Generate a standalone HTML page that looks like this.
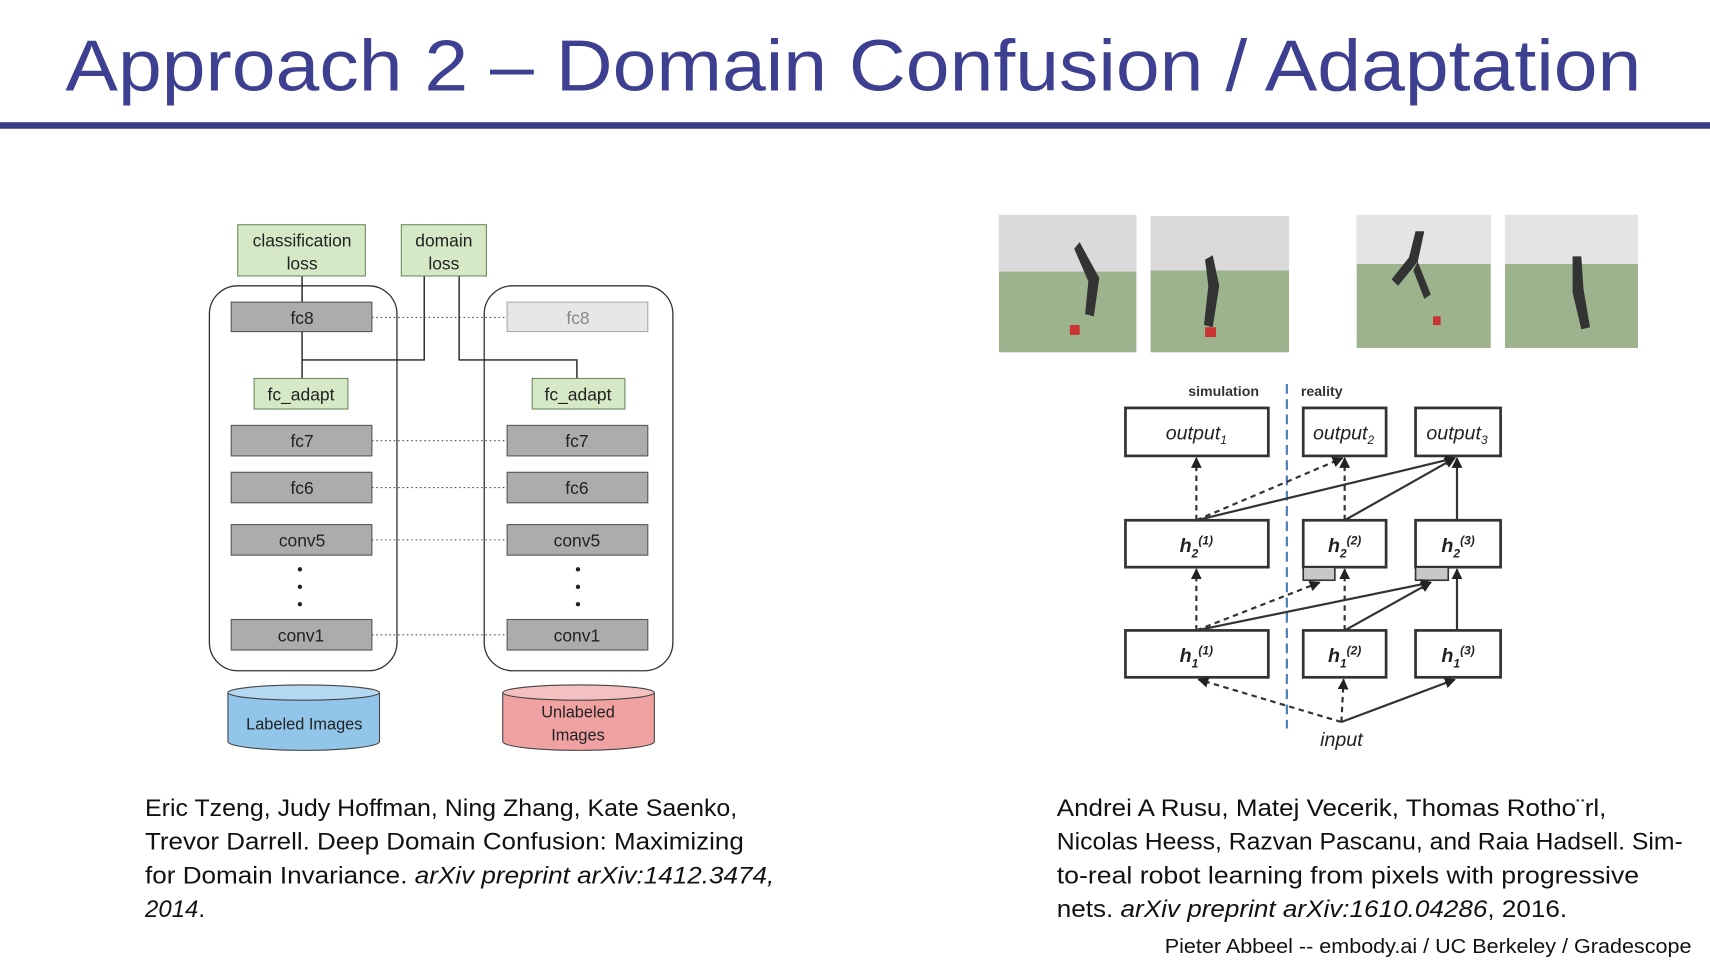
<!DOCTYPE html>
<html><head><meta charset="utf-8"><style>
html,body{margin:0;padding:0;background:#fff;}
svg{display:block;}
text{font-family:"Liberation Sans",sans-serif;}
</style></head><body>
<svg width="1710" height="962" viewBox="0 0 1568 882" xmlns="http://www.w3.org/2000/svg">
<defs>
<marker id="ah" viewBox="0 0 10 10" refX="9" refY="5" markerWidth="5" markerHeight="5" orient="auto"><path d="M0,0L10,5L0,10z" fill="#222"/></marker>
</defs>
<rect width="1568" height="882" fill="#fff"/>
<text x="60" y="83" font-size="66" fill="#3d3f91" textLength="1445" lengthAdjust="spacingAndGlyphs">Approach 2 – Domain Confusion / Adaptation</text>
<rect x="0" y="112" width="1568" height="6" fill="#3b3c86"/>

<!-- left diagram -->
<g font-size="16" text-anchor="middle" fill="#222">
<rect x="192" y="262" width="172" height="353" rx="26" fill="none" stroke="#333" stroke-width="1.2"/>
<rect x="444" y="262" width="173" height="353" rx="26" fill="none" stroke="#333" stroke-width="1.2"/>
<g stroke="#222" stroke-width="1.3" fill="none">
<path d="M277 253V277M277 304V347M277 330H389V253M421 253V330H529V347"/>
</g>
<rect x="218" y="206" width="117" height="47" fill="#d6e9c6" stroke="#6b8c5a"/>
<text x="277" y="226">classification</text><text x="277" y="247">loss</text>
<rect x="368" y="206" width="78" height="47" fill="#d6e9c6" stroke="#6b8c5a"/>
<text x="407" y="226">domain</text><text x="407" y="247">loss</text>
<g stroke="#555" stroke-width="1" stroke-dasharray="1.5,2.5">
<path d="M341 291H465M341 404H465M341 447H465M341 495H465M341 582H465"/>
</g>
<g fill="#acacac" stroke="#555">
<rect x="212" y="277" width="129" height="27"/>
<rect x="212" y="390" width="129" height="28"/><rect x="465" y="390" width="129" height="28"/>
<rect x="212" y="433" width="129" height="28"/><rect x="465" y="433" width="129" height="28"/>
<rect x="212" y="481" width="129" height="28"/><rect x="465" y="481" width="129" height="28"/>
<rect x="212" y="568" width="129" height="28"/><rect x="465" y="568" width="129" height="28"/>
</g>
<rect x="465" y="277" width="129" height="27" fill="#e6e6e6" stroke="#aaa"/>
<text x="277" y="297">fc8</text><text x="530" y="297" fill="#888">fc8</text>
<rect x="233" y="347" width="86" height="28" fill="#d6e9c6" stroke="#6b8c5a"/>
<rect x="488" y="347" width="85" height="28" fill="#d6e9c6" stroke="#6b8c5a"/>
<text x="276" y="367">fc_adapt</text><text x="530" y="367">fc_adapt</text>
<text x="277" y="410">fc7</text><text x="529" y="410">fc7</text>
<text x="277" y="453">fc6</text><text x="529" y="453">fc6</text>
<text x="277" y="501">conv5</text><text x="529" y="501">conv5</text>
<text x="276" y="588">conv1</text><text x="529" y="588">conv1</text>
<g fill="#222"><circle cx="275" cy="522" r="2"/><circle cx="275" cy="538" r="2"/><circle cx="275" cy="554" r="2"/>
<circle cx="530" cy="522" r="2"/><circle cx="530" cy="538" r="2"/><circle cx="530" cy="554" r="2"/></g>
<path d="M209 635V680A69.5 8 0 0 0 348 680V635" fill="#92c5ea" stroke="#444"/>
<ellipse cx="278.5" cy="635" rx="69.5" ry="7" fill="#b5d8f2" stroke="#444"/>
<text x="279" y="669" font-size="15">Labeled Images</text>
<path d="M461 635V680A69.5 8 0 0 0 600 680V635" fill="#f0a2a2" stroke="#444"/>
<ellipse cx="530.5" cy="635" rx="69.5" ry="7" fill="#f5c0c0" stroke="#444"/>
<text x="530" y="658" font-size="15">Unlabeled</text><text x="530" y="679" font-size="15">Images</text>
</g>

<!-- robot images -->
<g>
<rect x="916" y="197" width="126" height="126" fill="#9db38e"/><rect x="916" y="197" width="126" height="52" fill="#dadada"/>
<path d="M985 228L990 222L1008 255L1003 290L995 288L998 258z" fill="#333"/><rect x="981" y="298" width="9" height="9" fill="#c33"/>
<rect x="1055" y="198" width="127" height="125" fill="#9db38e"/><rect x="1055" y="198" width="127" height="50" fill="#dadada"/>
<path d="M1105 238L1112 234L1118 262L1112 300L1104 298L1108 262z" fill="#333"/><rect x="1105" y="300" width="10" height="9" fill="#c33"/>
<rect x="1244" y="197" width="123" height="122" fill="#9db38e"/><rect x="1244" y="197" width="123" height="45" fill="#e4e4e4"/>
<path d="M1298 212L1306 212L1300 240L1282 262L1276 256L1292 236z M1300 240L1312 270L1306 274L1296 248z" fill="#333"/><rect x="1314" y="290" width="7" height="8" fill="#c33"/>
<rect x="1380" y="197" width="122" height="122" fill="#9db38e"/><rect x="1380" y="197" width="122" height="45" fill="#e4e4e4"/>
<path d="M1442 235L1450 235L1452 265L1458 300L1450 302L1442 268z" fill="#333"/>
</g>

<!-- right diagram -->
<g font-family="Liberation Serif" font-style="italic" font-size="18" text-anchor="middle" fill="#222">
<text x="1122" y="363" font-family="Liberation Sans" font-style="normal" font-size="13" font-weight="bold" fill="#333">simulation</text>
<text x="1212" y="363" font-family="Liberation Sans" font-style="normal" font-size="13" font-weight="bold" fill="#333">reality</text>
<line x1="1180" y1="352" x2="1180" y2="668" stroke="#4a7fb5" stroke-width="2" stroke-dasharray="9,5"/>
<g fill="#fff" stroke="#333" stroke-width="2.5">
<rect x="1032" y="374" width="131" height="44"/><rect x="1195" y="374" width="76" height="44"/><rect x="1298" y="374" width="78" height="44"/>
<rect x="1032" y="477" width="131" height="43"/><rect x="1195" y="477" width="76" height="43"/><rect x="1298" y="477" width="78" height="43"/>
<rect x="1032" y="578" width="131" height="43"/><rect x="1195" y="578" width="76" height="43"/><rect x="1298" y="578" width="78" height="43"/>
</g>
<rect x="1195" y="520" width="29" height="12" fill="#c8c8c8" stroke="#333" stroke-width="1.5"/>
<rect x="1298" y="520" width="30" height="12" fill="#c8c8c8" stroke="#333" stroke-width="1.5"/>
<text x="1097" y="403">output<tspan font-size="11" dy="4">1</tspan></text>
<text x="1232" y="403">output<tspan font-size="11" dy="4">2</tspan></text>
<text x="1336" y="403">output<tspan font-size="11" dy="4">3</tspan></text>
<text x="1097" y="506" font-weight="bold">h<tspan font-size="11" dy="5">2</tspan><tspan font-size="11" dy="-12">(1)</tspan></text>
<text x="1233" y="506" font-weight="bold">h<tspan font-size="11" dy="5">2</tspan><tspan font-size="11" dy="-12">(2)</tspan></text>
<text x="1337" y="506" font-weight="bold">h<tspan font-size="11" dy="5">2</tspan><tspan font-size="11" dy="-12">(3)</tspan></text>
<text x="1097" y="607" font-weight="bold">h<tspan font-size="11" dy="5">1</tspan><tspan font-size="11" dy="-12">(1)</tspan></text>
<text x="1233" y="607" font-weight="bold">h<tspan font-size="11" dy="5">1</tspan><tspan font-size="11" dy="-12">(2)</tspan></text>
<text x="1337" y="607" font-weight="bold">h<tspan font-size="11" dy="5">1</tspan><tspan font-size="11" dy="-12">(3)</tspan></text>
<text x="1230" y="684">input</text>
<g stroke="#333" stroke-width="2" fill="none" marker-end="url(#ah)">
<g stroke-dasharray="5,4">
<path d="M1097 477L1097 420"/><path d="M1097 477L1231 420"/><path d="M1233 477L1233 420"/>
<path d="M1097 578L1097 522"/><path d="M1097 578L1210 534"/><path d="M1233 578L1233 522"/>
<path d="M1230 662L1099 623"/><path d="M1230 662L1232 623"/>
</g>
<path d="M1097 477L1334 420"/><path d="M1233 477L1334 420"/><path d="M1336 477L1336 420"/>
<path d="M1097 578L1312 534"/><path d="M1233 578L1312 534"/><path d="M1336 578L1336 522"/>
<path d="M1230 662L1334 623"/>
</g>
</g>

<!-- citations -->
<g font-size="22" fill="#111" lengthAdjust="spacingAndGlyphs">
<text x="133" y="748" textLength="543" lengthAdjust="spacingAndGlyphs">Eric Tzeng, Judy Hoffman, Ning Zhang, Kate Saenko,</text>
<text x="133" y="779" textLength="549" lengthAdjust="spacingAndGlyphs">Trevor Darrell. Deep Domain Confusion: Maximizing</text>
<text x="133" y="810" textLength="577" lengthAdjust="spacingAndGlyphs">for Domain Invariance. <tspan font-style="italic">arXiv preprint arXiv:1412.3474,</tspan></text>
<text x="133" y="841" font-style="italic">2014<tspan font-style="normal">.</tspan></text>
<text x="969" y="748" textLength="504" lengthAdjust="spacingAndGlyphs">Andrei A Rusu, Matej Vecerik, Thomas Rotho¨rl,</text>
<text x="969" y="779" textLength="574" lengthAdjust="spacingAndGlyphs">Nicolas Heess, Razvan Pascanu, and Raia Hadsell. Sim-</text>
<text x="969" y="810" textLength="534" lengthAdjust="spacingAndGlyphs">to-real robot learning from pixels with progressive</text>
<text x="969" y="841" textLength="468" lengthAdjust="spacingAndGlyphs">nets. <tspan font-style="italic">arXiv preprint arXiv:1610.04286</tspan>, 2016.</text>
<text x="1068" y="874" font-size="19" textLength="483" lengthAdjust="spacingAndGlyphs">Pieter Abbeel -- embody.ai / UC Berkeley / Gradescope</text>
</g>
</svg>
</body></html>
